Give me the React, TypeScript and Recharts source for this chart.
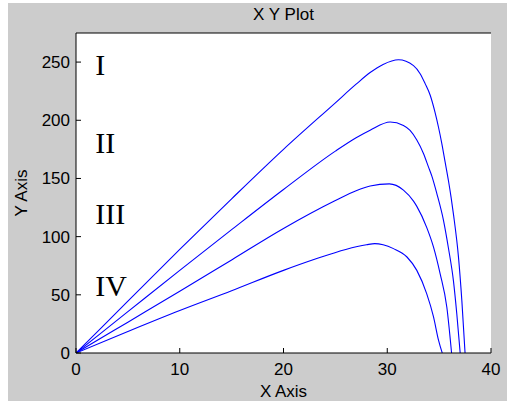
import React from "react";
import { LineChart, Line, XAxis, YAxis, CartesianGrid, ReferenceDot } from "recharts";

// curve I
const xI = [0, 5, 10, 15, 20, 25, 27, 28.35, 29.6, 31.08, 32.53, 33.17, 33.65, 34.14, 34.6, 34.94, 35.26, 35.58, 35.9, 36.15, 36.4, 36.87, 37.19, 37.5];
const yI = [0, 44.5, 89, 132.5, 175, 215, 231, 241, 248, 252, 247, 240, 231.5, 221.5, 207, 194, 180, 164, 148, 134, 118, 82, 45, 0];
// curve II
const xII = [0, 5, 10, 15, 20, 25, 27, 28.35, 30.28, 31.56, 32.2, 32.85, 33.49, 33.97, 34.3, 34.78, 35.42, 35.9, 36.38, 36.7, 37.03];
const yII = [0, 35.5, 71, 106, 140.5, 173.5, 185, 191.5, 198.5, 195.6, 191.3, 183, 171.5, 160, 152, 137, 114, 90, 62, 34, 0];
// curve III
const xIII = [0, 5, 10, 15, 20, 25, 27, 28.35, 30.2, 31.56, 32.53, 32.85, 33.8, 34.46, 35.1, 35.74, 36.2];
const yIII = [0, 26.5, 53, 80, 107, 131, 139.5, 143.5, 145.3, 140, 130.5, 126, 108, 91, 68, 39.5, 0];
// curve IV
const xIV = [0, 5, 10, 15, 20, 23, 26, 28, 28.8, 29.6, 30.6, 31.9, 32.85, 33.8, 34.46, 34.94, 35.3];
const yIV = [0, 18.5, 36.5, 53.5, 71, 80.5, 89, 93, 94, 93, 89.7, 82.5, 71, 51, 31, 11, 0];

const xTicks = [0, 10, 20, 30, 40];
const yTicks = [0, 50, 100, 150, 200, 250];

// roman numeral labels, placed in data coordinates
const romanLabels = ["I", "II", "III", "IV"];
const romanX = [1.85, 1.85, 1.85, 1.85];
const romanY = [248, 181, 120, 58];

const series = [
  { name: "I", x: xI, y: yI },
  { name: "II", x: xII, y: yII },
  { name: "III", x: xIII, y: yIII },
  { name: "IV", x: xIV, y: yIV },
].map((s) => ({ name: s.name, data: s.x.map((x, i) => ({ x, y: s.y[i] })) }));

const sans = "'Liberation Sans', Arial, sans-serif";
const textStyle = { fill: "#000", fontSize: 17, fontFamily: sans };

export default function App() {
  return (
    <div style={{ position: "absolute", left: 8, top: 3, width: 499, height: 398, background: "#cccccc" }}>
      <LineChart width={499} height={398} margin={{ top: 0, right: 16, left: 0, bottom: 0 }}>
        <CartesianGrid fill="#fff" horizontal={false} vertical={false} />
        <XAxis
          dataKey="x"
          type="number"
          domain={[0, 40]}
          ticks={xTicks}
          height={48}
          tickSize={-5}
          tickMargin={15}
          stroke="#000"
          tick={textStyle}
          allowDataOverflow
          label={{ value: "X Axis", position: "insideBottom", offset: 4, style: textStyle }}
        />
        <XAxis
          xAxisId="top"
          orientation="top"
          type="number"
          domain={[0, 40]}
          ticks={xTicks}
          height={30}
          tickSize={-5}
          tick={false}
          stroke="#000"
          label={{ value: "X Y Plot", position: "insideTop", offset: 4.5, style: textStyle }}
        />
        <YAxis
          type="number"
          domain={[0, 275]}
          ticks={yTicks}
          width={68}
          tickSize={-5}
          tickMargin={11}
          stroke="#000"
          tick={textStyle}
          allowDataOverflow
          label={{ value: "Y Axis", angle: -90, position: "insideLeft", offset: 13, style: { ...textStyle, textAnchor: "middle" } }}
        />
        <YAxis
          yAxisId="right"
          orientation="right"
          type="number"
          domain={[0, 275]}
          ticks={yTicks}
          width={0}
          tickSize={-5}
          tick={false}
          stroke="#000"
        />
        {series.map((s) => (
          <Line
            key={s.name}
            data={s.data}
            dataKey="y"
            type="monotone"
            stroke="#0000ff"
            strokeWidth={1.1}
            dot={false}
            isAnimationActive={false}
          />
        ))}
        {romanLabels.map((t, i) => (
          <ReferenceDot
            key={t}
            x={romanX[i]}
            y={romanY[i]}
            r={0}
            stroke="none"
            fill="none"
            label={{ value: t, position: "right", offset: 0, style: { fill: "#000", fontSize: 30, fontFamily: "'Liberation Serif', 'Times New Roman', serif" } }}
          />
        ))}
      </LineChart>
    </div>
  );
}
